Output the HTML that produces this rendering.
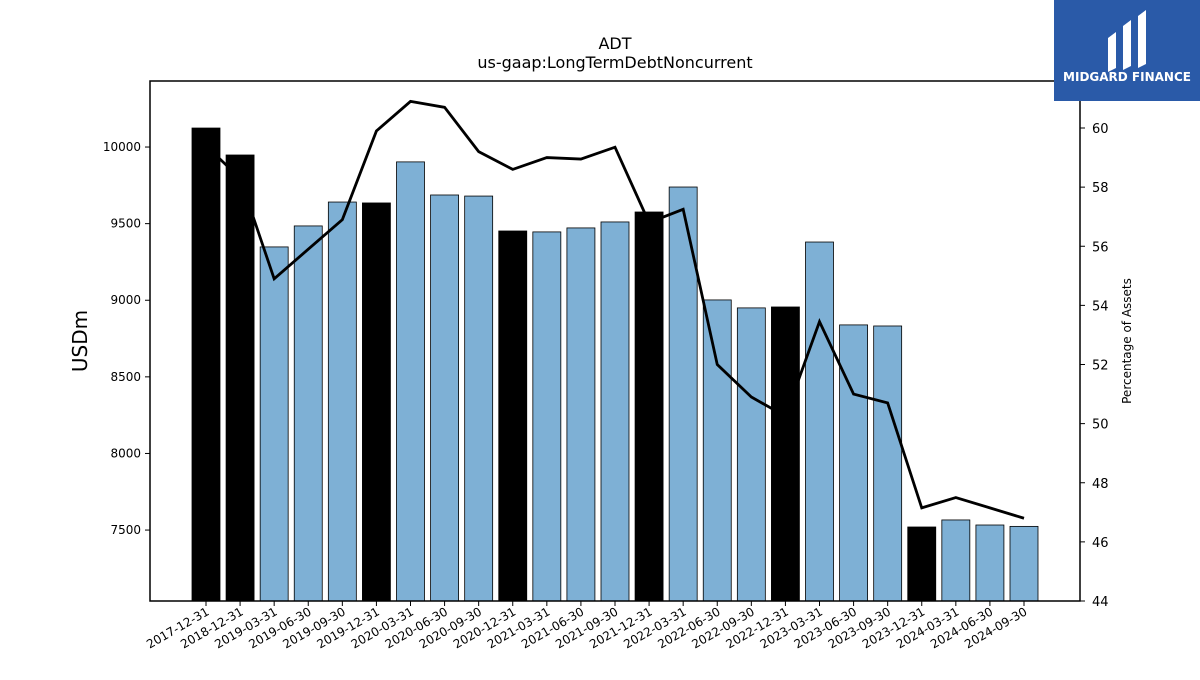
<!DOCTYPE html>
<html><head><meta charset="utf-8"><style>
body{margin:0;background:#fff;font-family:"Liberation Sans",sans-serif}
svg text{font-family:"DejaVu Sans","Liberation Sans",sans-serif}
</style></head><body>
<svg id="c" width="1200" height="675">
<text x="615" y="49" font-size="16" text-anchor="middle">ADT</text>
<text x="615" y="68" font-size="16" text-anchor="middle">us-gaap:LongTermDebtNoncurrent</text>
<g id="bars"></g>
<g id="line"></g>
<rect x="150" y="81" width="930" height="520" fill="none" stroke="#000" stroke-width="1.5"/>
<g id="ax"></g>
<text transform="translate(87,341) rotate(-90)" font-size="20" text-anchor="middle">USDm</text>
<text transform="translate(1131,341) rotate(-90)" font-size="12" text-anchor="middle">Percentage of Assets</text>
<g>
<rect x="1054" y="0" width="146" height="101" fill="#2a5aa8"/>
<path d="M1108 38 L1116 32 L1116 68 L1108 72Z M1123 26 L1131 20 L1131 66 L1123 70Z M1138 16 L1146 10 L1146 64 L1138 68Z" fill="#fff"/>
<text x="1127" y="81" font-size="12" font-weight="bold" fill="#fff" text-anchor="middle" font-family="Liberation Sans">MIDGARD FINANCE</text>
</g>
</svg>
<script>
const categories=["2017-12-31","2018-12-31","2019-03-31","2019-06-30","2019-09-30","2019-12-31","2020-03-31","2020-06-30","2020-09-30","2020-12-31","2021-03-31","2021-06-30","2021-09-30","2021-12-31","2022-03-31","2022-06-30","2022-09-30","2022-12-31","2023-03-31","2023-06-30","2023-09-30","2023-12-31","2024-03-31","2024-06-30","2024-09-30"].filter((d,i)=>i!==20||true);
const debtValues=[10124,9948,9348,9485,9641,9635,9903,9687,9680,9452,9446,9472,9511,9576,9739,9002,8950,8956,9380,8839,8832,7520,7566,7533,7524];
const pctValues=[59.4,58.3,54.9,55.9,56.9,59.9,60.9,60.7,59.2,58.6,59.0,58.95,59.35,56.8,57.25,52.0,50.9,50.25,53.45,51.0,50.7,47.15,47.5,47.15,46.8];
const leftTicks=[7500,8000,8500,9000,9500,10000];
const rightTicks=[44,46,48,50,52,54,56,58,60];
const NS="http://www.w3.org/2000/svg";
const n=categories.length;
const x0=206,dx=(1024-206)/(n-1);
const xs=i=>x0+i*dx;
const yL=v=>601-(v-7037)*(520/(10431-7037));
const yR=v=>601-(v-44)*(520/(61.59-44));
function mk(t,a,p){const e=document.createElementNS(NS,t);for(const k in a)e.setAttribute(k,a[k]);p.appendChild(e);return e;}
const bg=document.getElementById('bars'),lg=document.getElementById('line'),ax=document.getElementById('ax');
categories.forEach((c,i)=>{
  const ye=c.endsWith("12-31");
  const y=yL(debtValues[i]);
  const r=mk('rect',{x:xs(i)-14,y:y,width:28,height:601-y,fill:ye?'#000':'#7eb0d5',stroke:'#000','stroke-width':0.8},bg);
  
  
  mk('line',{x1:xs(i),x2:xs(i),y1:601,y2:606,stroke:'#000'},ax);
  const t=mk('text',{x:0,y:0,'font-size':12,'text-anchor':'end',transform:`translate(${xs(i)+4},${614}) rotate(-30)`},ax);
  t.textContent=c;
  
  
});
const pl=mk('polyline',{points:pctValues.map((v,i)=>xs(i)+','+yR(v)).join(' '),fill:'none',stroke:'#000','stroke-width':2.8},lg);


leftTicks.forEach(v=>{
  mk('line',{x1:145,x2:150,y1:yL(v),y2:yL(v),stroke:'#000'},ax);
  const t=mk('text',{x:141,y:yL(v)+4,'font-size':12,'text-anchor':'end'},ax);t.textContent=v;
  
  
});
rightTicks.forEach(v=>{
  mk('line',{x1:1080,x2:1085,y1:yR(v),y2:yR(v),stroke:'#000'},ax);
  const t=mk('text',{x:1092,y:yR(v)+5,'font-size':13},ax);t.textContent=v;
  
  
});
</script>
</body></html>
